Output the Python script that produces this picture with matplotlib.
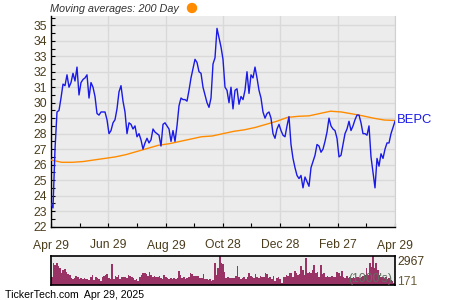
import numpy as np
import pandas as pd
import matplotlib
matplotlib.use("Agg")
import matplotlib.pyplot as plt
import matplotlib.dates as mdates

# ---- data ----
start_date = "2024-04-29"
end_date = "2025-04-29"

price = [23.5, 23.2, 27.0, 29.4, 29.5, 30.3, 31.2, 31.1, 31.8, 31.0,
         31.3, 31.9, 31.4, 32.3, 30.5, 31.3, 31.5, 31.6, 31.8, 30.3,
         31.3, 31.0, 30.4, 29.3, 29.2, 29.4, 29.4, 29.4, 28.9, 28.0,
         28.2, 28.7, 28.9, 29.6, 30.7, 31.1, 30.1, 29.4, 28.0, 28.7,
         28.6, 28.3, 28.5, 27.8, 28.0, 27.6, 27.0, 27.4, 27.7, 27.4,
         27.6, 28.3, 28.1, 28.0, 27.9, 27.2, 28.6, 28.7, 28.5, 28.3,
         27.5, 28.2, 27.5, 28.5, 29.8, 30.3, 30.2, 30.2, 30.1, 30.8,
         31.6, 32.2, 32.8, 32.6, 32.0, 31.9, 31.0, 30.5, 30.0, 29.7,
         30.3, 32.5, 32.9, 34.8, 34.2, 33.6, 32.8, 31.0, 30.8, 30.0,
         31.0, 29.6, 30.8, 30.9, 29.9, 30.4, 30.2, 30.8, 32.0, 30.6,
         31.8, 31.6, 32.3, 31.6, 30.8, 30.3, 29.4, 29.0, 29.3, 29.4,
         29.0, 28.0, 27.7, 28.3, 28.6, 28.2, 27.9, 27.8, 28.5, 29.1,
         27.3, 26.4, 25.8, 25.3, 25.1, 25.3, 24.5, 25.2, 24.9, 24.6,
         25.8, 26.2, 26.6, 27.3, 27.2, 26.8, 27.0, 27.5, 28.1, 29.0,
         28.5, 28.3, 28.2, 27.7, 26.5, 26.6, 27.3, 28.0, 28.3, 28.8,
         28.2, 28.5, 28.9, 29.2, 29.2, 28.7, 28.0, 28.0, 27.9, 28.5,
         26.5, 25.5, 24.5, 26.4, 25.9, 26.7, 26.4, 27.0, 27.4, 27.4,
         28.0, 28.4, 28.8]

ma200 = [26.3, 26.15, 26.15, 26.2, 26.3, 26.4, 26.5, 26.65, 26.85, 27.05,
         27.25, 27.35, 27.5, 27.65, 27.8, 27.85, 28.0, 28.15, 28.25, 28.4,
         28.6, 28.8, 29.05, 29.12, 29.15, 29.3, 29.45, 29.4, 29.28, 29.15,
         29.0, 28.88, 28.85]

volume = [853, 2217, 2046, 2285, 1944, 1705, 1194, 1535, 1603, 1364,
          1125, 1023, 682, 580, 682, 921, 784, 580, 750, 580,
          682, 580, 648, 512, 853, 1023, 512, 784, 682, 580,
          443, 784, 921, 1023, 1125, 682, 580, 2148, 580, 921,
          853, 1023, 580, 784, 784, 853, 682, 1023, 921, 853,
          682, 512, 580, 443, 853, 1023, 1194, 1262, 1125, 921,
          1364, 1023, 853, 921, 853, 784, 921, 682, 580, 1023,
          853, 682, 580, 682, 580, 682, 580, 682, 1466, 1023,
          682, 784, 580, 682, 853, 1262, 1125, 921, 921, 921,
          921, 682, 682, 1125, 580, 580, 512, 580, 443, 512,
          2217, 1023, 1705, 2967, 2217, 2148, 1364, 682, 853,
          682, 682, 682, 682, 921, 1944, 853, 580, 682, 784,
          580, 853, 1262, 921, 853, 682, 1125, 784, 682, 921,
          853, 784, 1262, 1125, 682, 853, 580, 921, 443, 682,
          784, 580, 239, 784, 853, 1023, 921, 1194, 1262, 853,
          1466, 1262, 1023, 1125, 1944, 1535, 1023, 2728, 1194, 1364,
          1194, 1535, 2046, 1194, 1364, 853, 2046, 1125, 1194, 853,
          921, 784, 853, 921, 784, 853, 1364, 1194, 921, 1466,
          853, 682, 921, 682, 784, 682, 853, 682, 784, 853,
          682, 853, 921, 1023, 1705, 1023, 2217, 1876, 2967, 1705,
          2217, 1535, 1023, 853, 784, 682, 784, 580, 682, 512,
          443, 171]

x_tick_labels = ["Apr 29", "Jun 29", "Aug 29", "Oct 28", "Dec 28", "Feb 27", "Apr 29"]
x_tick_dates = ["2024-04-29", "2024-06-29", "2024-08-29", "2024-10-28",
                "2024-12-28", "2025-02-27", "2025-04-29"]
vol_max_label = "2967"
vol_min_label = "171"
ticker = "BEPC"

# ---- style ----
plt.rcParams['font.family'] = ['Liberation Sans', 'DejaVu Sans']
tick_color = "#4a3c1c"
bg = "#ececec"
grid_c = "#d9d9d9"

fig = plt.figure(figsize=(4.5, 3.0), dpi=100)
fig.patch.set_facecolor("white")

ax = fig.add_axes([51/450, 73/300, 344/450, 211/300])
ax.set_facecolor(bg)

d0 = pd.Timestamp(start_date)
d1 = pd.Timestamp(end_date)
px = pd.date_range(d0, d1, periods=len(price))
mx = pd.date_range(d0, d1, periods=len(ma200))
ax.plot(mx, ma200, color="#ff8c00", lw=1.0, zorder=3)
ax.plot(px, price, color="#1a1ae6", lw=1.0, zorder=4)

ax.set_xlim(d0, d1)
ax.set_ylim(21.97, 35.6)

tick_d = pd.to_datetime(x_tick_dates)
ax.set_xticks(tick_d)
ax.set_xticklabels(x_tick_labels)
minor_d = [tick_d[i] + (tick_d[i+1] - tick_d[i]) / 2 for i in range(len(tick_d) - 1)]
ax.set_xticks(minor_d, minor=True)
ax.set_yticks(np.arange(22, 36, 1))
ax.set_yticks(np.arange(22, 36, 0.5), minor=True)

ax.grid(True, which="major", color=grid_c, lw=1.0, zorder=0)
ax.set_axisbelow(True)
for s in ["top"]:
    ax.spines[s].set_visible(False)
ax.spines["right"].set_color("#d0d0d0")
ax.spines["left"].set_color("black")
ax.spines["bottom"].set_color("black")
ax.spines["left"].set_linewidth(1.0)
ax.spines["bottom"].set_linewidth(1.0)

ax.tick_params(axis="both", which="both", direction="in", colors="black",
               labelcolor=tick_color, labelsize=8.7, length=3, width=0.8)
ax.tick_params(axis="x", pad=9)
ax.tick_params(axis="y", pad=3)
ax.tick_params(axis="y", which="both", right=False)
ax.tick_params(axis="x", which="both", top=False)

ax.text(1.006, (28.87 - 21.97) / (35.6 - 21.97), ticker, transform=ax.transAxes,
        color="#1a1ae6", fontsize=9.4, va="center", ha="left")

# title
fig.text(50/450, 1 - 8.5/300, "Moving averages: 200 Day", fontsize=7.8,
         style="italic", color="#333333", va="center", ha="left")
fig.patches.append(matplotlib.patches.Ellipse((192/450, 1 - 8/300), 9/450, 9/300,
                                              transform=fig.transFigure,
                                              color="#ff8c00", figure=fig))

# volume
axv = fig.add_axes([51/450, 15/300, 344/450, 29/300])
axv.set_facecolor(bg)
vx = np.arange(len(volume))
axv.bar(vx, volume, width=1.0, color="#993366", edgecolor="none")
axv.set_xlim(-0.5, len(volume) - 0.5)
axv.set_ylim(0, 2967)
axv.set_xticks([])
axv.set_yticks([])
for s in axv.spines.values():
    s.set_color("black")
    s.set_linewidth(1.2)
fig.text(397/450, 1 - 262/300, vol_max_label, fontsize=8.7, color=tick_color,
         va="center", ha="left")
fig.text(397/450, 1 - 282/300, vol_min_label, fontsize=8.7, color="#6b5d3c",
         va="center", ha="left")
axv.text(0.993, 0.2, "(1000's)", transform=axv.transAxes, fontsize=8.7,
         color="#5e6e5e", ha="right", va="center")

fig.text(5/450, 1 - 294.5/300, "TickerTech.com  Apr 29, 2025", fontsize=7.6,
         color="black", va="center", ha="left")

fig.savefig("out.png", dpi=100)
